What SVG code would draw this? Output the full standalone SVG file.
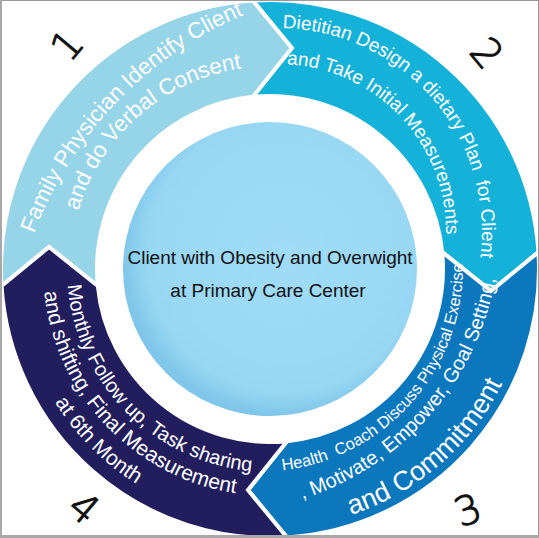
<svg xmlns="http://www.w3.org/2000/svg" width="539" height="538" viewBox="0 0 539 538">
<defs>
<style>
.seg{stroke:#fff;stroke-width:4;stroke-linejoin:miter}
.t{font-family:"Liberation Sans",Arial,sans-serif;fill:#fff;text-anchor:middle}
.num{font-family:"DejaVu Sans",sans-serif;font-weight:200;font-size:40px;fill:#111;stroke:#111;stroke-width:1.1;text-anchor:middle;dominant-baseline:central}
.ctr{font-family:"Liberation Sans",Arial,sans-serif;font-size:19px;fill:#111;text-anchor:middle}
</style>
<path id="s1" d="M 1.54 286 L 49 247 L 97.84 286 A 173 173 0 0 1 253 96.84 L 292 48 L 253 0.54 A 269 269 0 0 0 1.54 286 Z"/>
<path id="u382" d="M -191 -330.8 A 382 382 0 0 1 191 -330.8"/>
<path id="u202" d="M -202 0 A 202 202 0 0 1 202 0"/>
<path id="u204" d="M -204 0 A 204 204 0 0 1 204 0"/>
<path id="u168" d="M -168 0 A 168 168 0 0 1 168 0"/>
<path id="d205" d="M -205 0 A 205 205 0 0 0 205 0"/>
<path id="d282" d="M -282 0 A 282 282 0 0 0 282 0"/>
<path id="d259" d="M -259 0 A 259 259 0 0 0 259 0"/>
<path id="d203" d="M -203 0 A 203 203 0 0 0 203 0"/>
<path id="d227" d="M -227 0 A 227 227 0 0 0 227 0"/>
<path id="d253" d="M -253 0 A 253 253 0 0 0 253 0"/>
<radialGradient id="g" cx="0.55" cy="0.45" r="0.55">
<stop offset="0" stop-color="#A0DCF7"/>
<stop offset="0.85" stop-color="#98D7F3"/>
<stop offset="1" stop-color="#7FC6EA"/>
</radialGradient>
</defs>
<rect width="539" height="538" fill="#fff"/>

<g id="step1">
<use href="#s1" class="seg" fill="#96D4E8"/>
<text class="t" font-size="22.5" transform="translate(392 367) rotate(-46.2)"><textPath href="#u382" startOffset="50%">Family Physician Identify Client</textPath></text>
<text class="t" font-size="22.5" transform="translate(272 268) rotate(-41.1)"><textPath href="#u202" startOffset="50%">and do Verbal Consent</textPath></text>
</g>

<g id="step2">
<use href="#s1" class="seg" fill="#14B2D8" transform="rotate(90 270 269)"/>
<text class="t" font-size="19" transform="translate(278 232) rotate(49.2)"><textPath href="#u204" startOffset="50%">Dietitian Design a dietary Plan&#160; for Client</textPath></text>
<text class="t" font-size="19" transform="translate(278 232) rotate(46.9)"><textPath href="#u168" startOffset="50%">and Take Initial Measurements</textPath></text>
</g>

<g id="step3">
<use href="#s1" class="seg" fill="#0B77BD" transform="rotate(180 270 269)"/>
<text class="t" font-size="16.5" transform="translate(258 267) rotate(-48.95)"><textPath href="#d205" startOffset="50%">Health&#160; Coach Discuss Physical Exercise</textPath></text>
<text class="t" font-size="20" transform="translate(217.5 230) rotate(-48.8)"><textPath href="#d282" startOffset="50%">, Motivate, Empower, Goal Setting,</textPath></text>
<text class="t" font-size="27" transform="translate(270 269) rotate(-41)"><textPath href="#d259" startOffset="50%">and Commitment</textPath></text>
</g>

<g id="step4">
<use href="#s1" class="seg" fill="#221E5E" transform="rotate(270 270 269)"/>
<text class="t" font-size="20" transform="translate(270 269) rotate(45.35)"><textPath href="#d203" startOffset="50%">Monthly Follow up, Task sharing</textPath></text>
<text class="t" font-size="21" transform="translate(270 269) rotate(46.5)"><textPath href="#d227" startOffset="50%">and shifting, Final Measurement</textPath></text>
<text class="t" font-size="21" transform="translate(270 269) rotate(45.05)"><textPath href="#d253" startOffset="50%">at 6th Month</textPath></text>
</g>

<g id="center">
<circle cx="270" cy="269" r="147" fill="url(#g)"/>
<text class="ctr" x="270" y="264">Client with Obesity and Overwight</text>
<text class="ctr" x="268" y="297">at Primary Care Center</text>
</g>

<g id="numbers">
<text class="num" transform="translate(67 45) rotate(-50)">1</text>
<text class="num" transform="translate(487 53) rotate(50)">2</text>
<text class="num" transform="translate(468 510) rotate(-20)">3</text>
<text class="num" transform="translate(84 508) rotate(40)">4</text>
</g>

<g id="connectors"></g>

<g id="frame" fill="#A8A8A8">
<rect x="0.5" y="0.5" width="538" height="537" fill="none" stroke="#999"/>
<rect x="0" y="535" width="539" height="3"/>
<rect x="0" y="0" width="2" height="538"/>
</g>
</svg>
